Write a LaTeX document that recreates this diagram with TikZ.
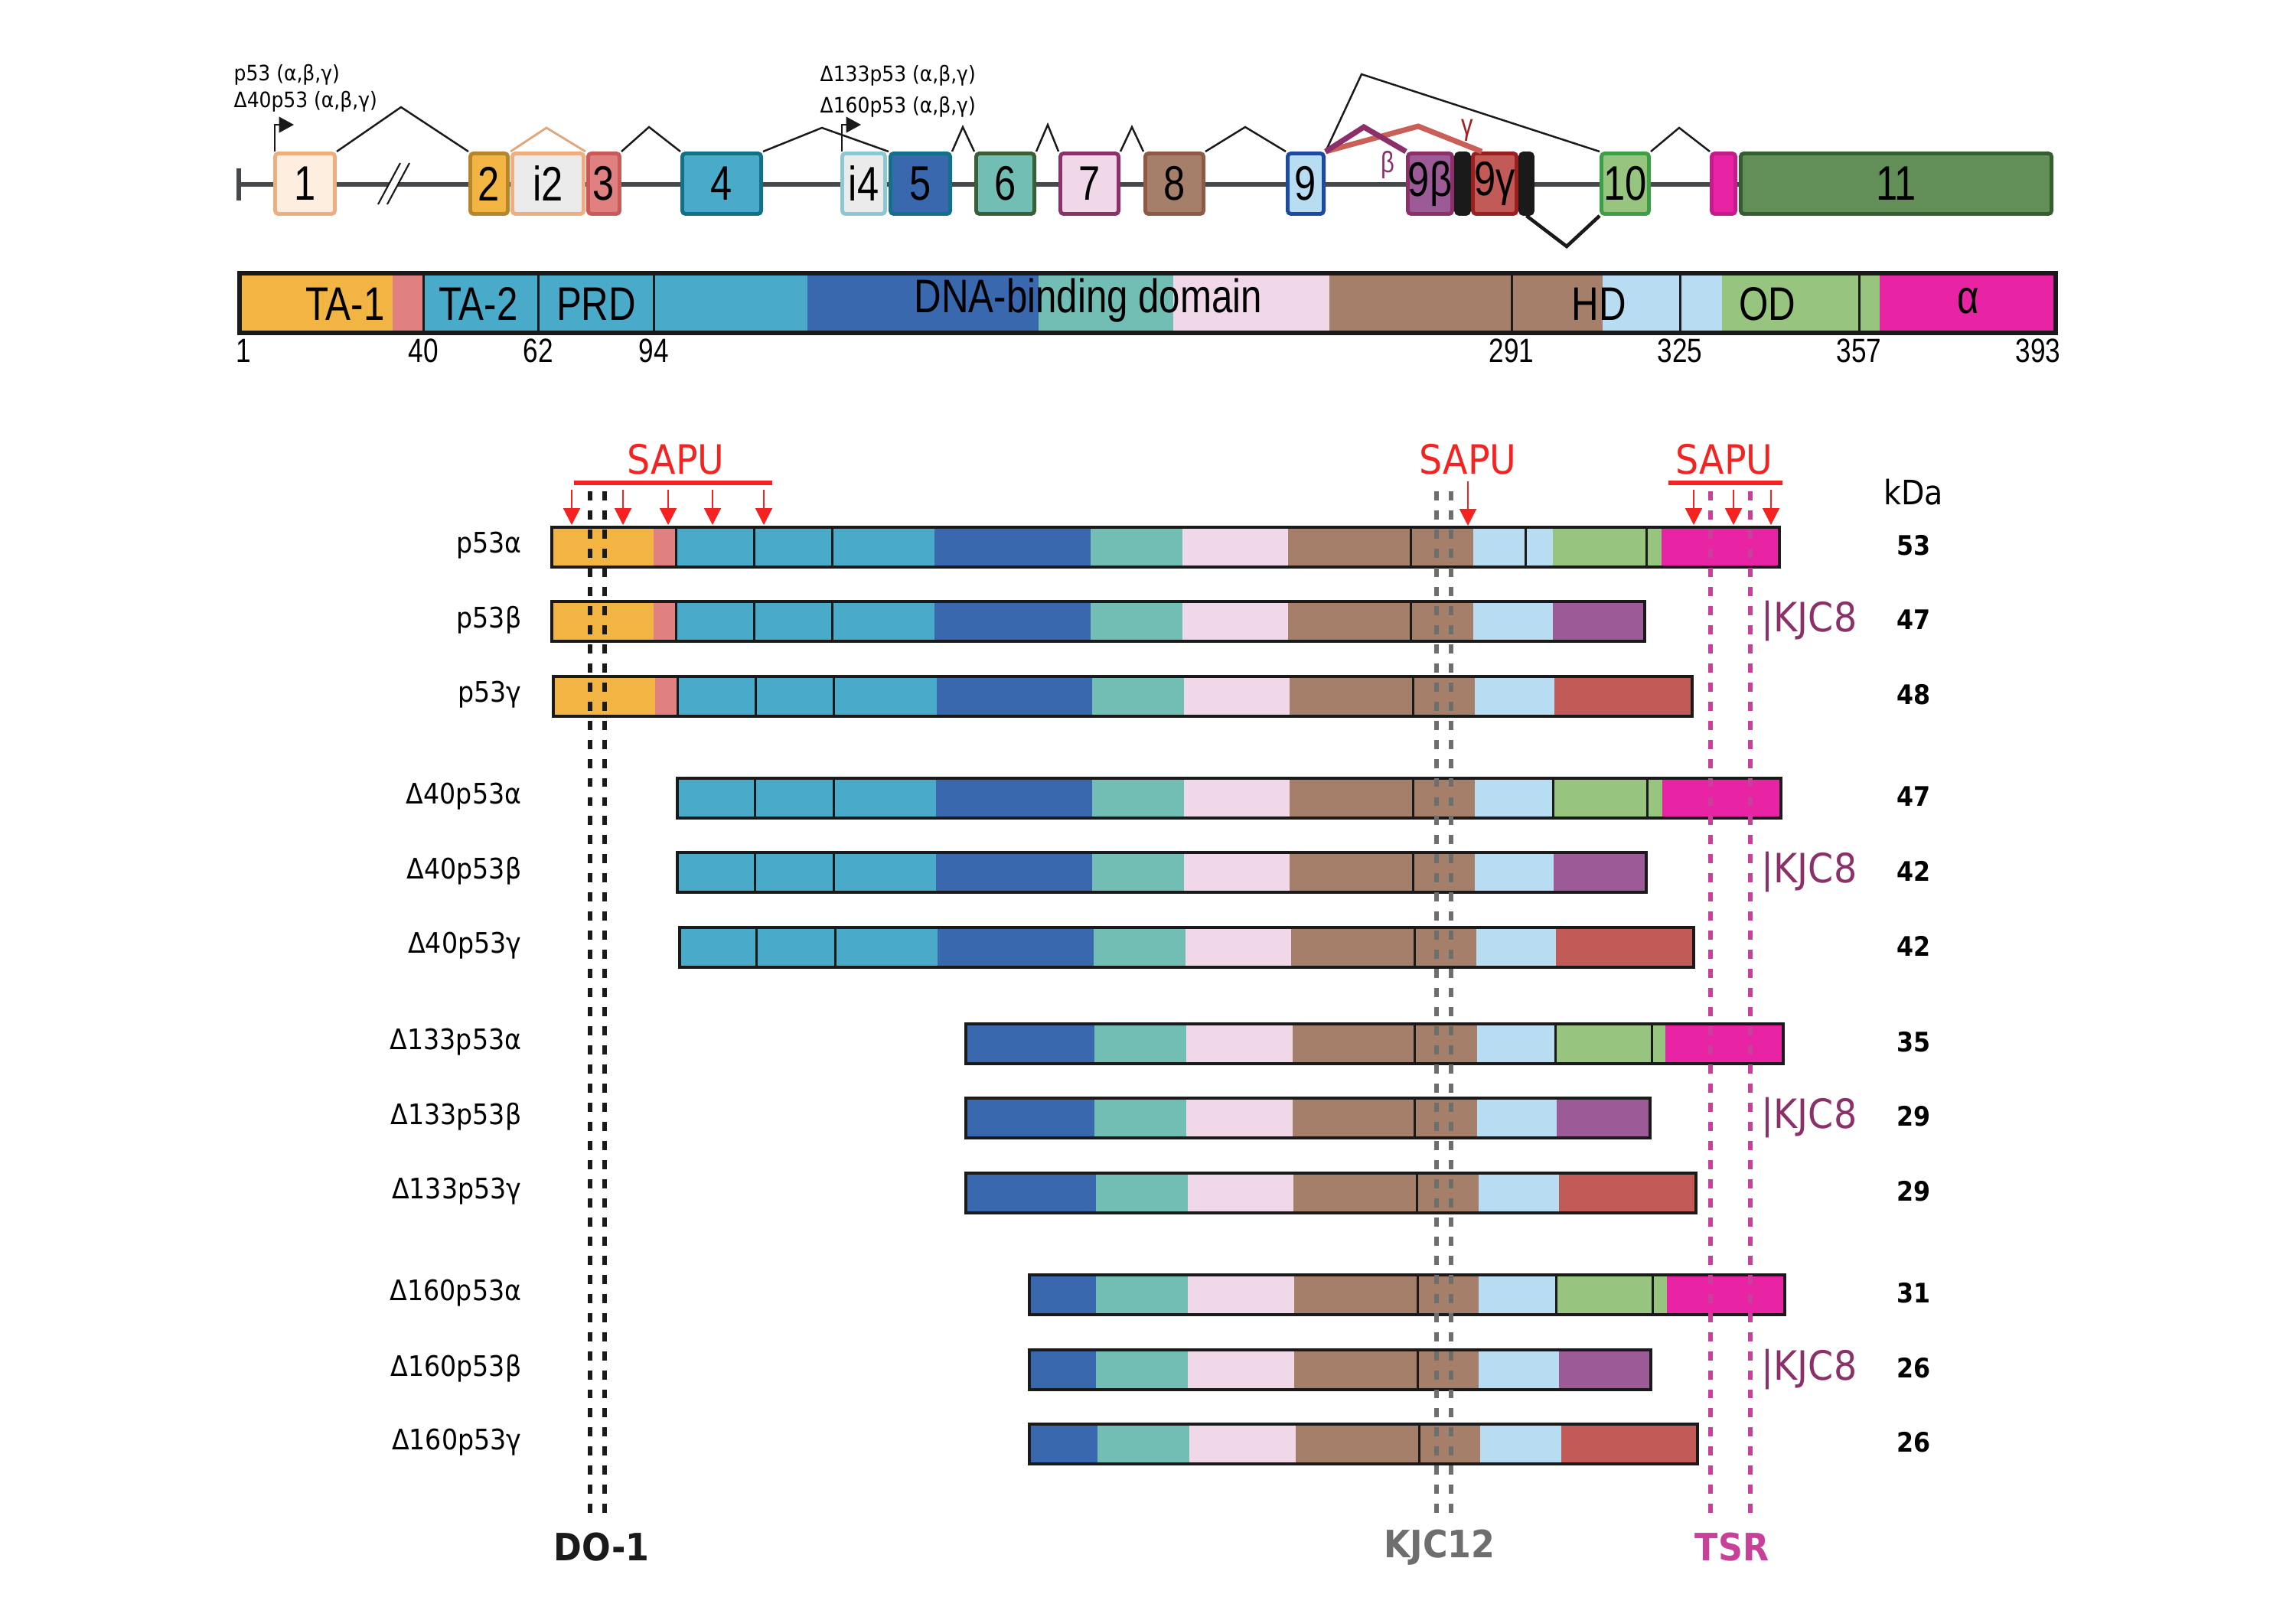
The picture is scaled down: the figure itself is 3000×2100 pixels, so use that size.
\documentclass[tikz,border=0pt]{standalone}
\usepackage{fontspec}
\setmainfont{DejaVu Sans}[FakeStretch=0.9]
\newfontfamily\helv{Liberation Sans}[FakeStretch=0.8]
\usetikzlibrary{arrows.meta,calc}
\definecolor{cOr}{HTML}{F2B544}
\definecolor{cRd}{HTML}{E08080}
\definecolor{cBl}{HTML}{4AAAC9}
\definecolor{cDb}{HTML}{3A68AE}
\definecolor{cTe}{HTML}{72BDB4}
\definecolor{cPk}{HTML}{F0D8E8}
\definecolor{cBr}{HTML}{A67F6A}
\definecolor{cLb}{HTML}{B8DCF2}
\definecolor{cGr}{HTML}{97C47E}
\definecolor{cMg}{HTML}{E824A4}
\definecolor{cPu}{HTML}{9C5B96}
\definecolor{cRe}{HTML}{C25A58}
\definecolor{cEl}{HTML}{628E58}
\definecolor{bOr}{HTML}{B8862A}
\definecolor{bRd}{HTML}{C85A5A}
\definecolor{bBl}{HTML}{127088}
\definecolor{bTe}{HTML}{3A5E35}
\definecolor{bPk}{HTML}{8B3068}
\definecolor{bBr}{HTML}{8C5A45}
\definecolor{bLb}{HTML}{1B4AA0}
\definecolor{bGr}{HTML}{3E9E45}
\definecolor{bMg}{HTML}{C41C8C}
\definecolor{bRe}{HTML}{9A2020}
\definecolor{bEl}{HTML}{355E30}
\definecolor{eOneF}{HTML}{FDEEE0}
\definecolor{eOneB}{HTML}{EFAE80}
\definecolor{iGray}{HTML}{EBEBEB}
\definecolor{iFourB}{HTML}{8CC8D4}
\definecolor{sapuC}{HTML}{F52222}
\definecolor{kjcEightC}{HTML}{8B3068}
\definecolor{kjcTwelveC}{HTML}{6E6E6E}
\definecolor{tsrC}{HTML}{C8409A}
\definecolor{gline}{HTML}{45494C}
\definecolor{ink}{HTML}{1A1A1A}
\definecolor{gamC}{HTML}{C86058}
\definecolor{gamT}{HTML}{A02020}
\newcommand\isosegs[2]{\foreach \c/\a/\b in {#2}{\fill[\c] (\a,#1-26) rectangle (\b,#1+26);}}
\newcommand\isodivs[2]{\foreach \a in {#2}{\draw[divline] (\a,#1-26) -- (\a,#1+26);}}
\newcommand\isoframe[3]{\draw[barline] (#2+2,#1-26) rectangle (#3-2,#1+26);}
\begin{document}
\begin{tikzpicture}[x=0.01cm,y=-0.01cm,
  exon/.style={draw, line width=1.4pt, rounded corners=1.2pt, minimum height=0.79cm, inner sep=0pt, font=\helv\fontsize{18}{20}\selectfont},
  splice/.style={line width=0.7pt, draw=ink},
  dom/.style={font=\helv\fontsize{17.5}{19}\selectfont, inner sep=0pt},
  domnum/.style={font=\helv\fontsize{12.5}{14}\selectfont, inner sep=0pt},
  rowlab/.style={font=\fontsize{10.5}{12}\selectfont, anchor=east, inner sep=0pt},
  kda/.style={font=\bfseries\fontsize{10}{12}\selectfont, inner sep=0pt},
  toplab/.style={font=\fontsize{7.9}{9}\selectfont, anchor=west, inner sep=0pt},
  sapu/.style={text=sapuC, font=\fontsize{15}{17}\selectfont, inner sep=0pt},
  kjceight/.style={text=kjcEightC, font=\fontsize{15}{17}\selectfont, anchor=west, inner sep=0pt},
  ablab/.style={font=\bfseries\fontsize{14}{16}\selectfont, inner sep=0pt},
  redarrow/.style={draw=sapuC, line width=0.6pt, -{Triangle[length=6.2pt,width=6.2pt]}},
  prom/.style={draw=ink, line width=0.7pt, -{Triangle[length=5.5pt,width=5.8pt]}},
  barline/.style={draw=ink, line width=1.15pt},
  divline/.style={draw=ink, line width=0.85pt},
  epdash/.style={line width=1.5pt, dash pattern=on 3.4pt off 3.7pt},
]
\useasboundingbox[fill=white] (0,0) rectangle (3000,2100);

% ---------------- gene structure ----------------
\draw[gline, line width=1.7pt] (312,241) -- (2683,241);
\draw[gline, line width=1.5pt] (312,220) -- (312,262);
\fill[white] (494,267) -- (523,213) -- (535,213) -- (506,267) -- cycle;
\draw[ink, line width=0.6pt] (494,267) -- (523,213);
\draw[ink, line width=0.6pt] (506,267) -- (535,213);

\node[exon, fill=eOneF, draw=eOneB, minimum width=0.78cm] (e1) at (398.5,240) {1};
\node[exon, fill=cOr, draw=bOr, minimum width=0.49cm] (e2) at (639,240) {2};
\node[exon, fill=iGray, draw=eOneB, minimum width=0.93cm] (ei2) at (716,240) {i2};
\node[exon, fill=cRd, draw=bRd, minimum width=0.41cm] (e3) at (789,240) {3};
\node[exon, fill=cBl, draw=bBl, minimum width=1.03cm] (e4) at (943,240) {4};
\node[exon, fill=iGray, draw=iFourB, minimum width=0.56cm] (ei4) at (1128.5,240) {i4};
\node[exon, fill=cDb, draw=bBl, minimum width=0.78cm] (e5) at (1202.5,240) {5};
\node[exon, fill=cTe, draw=bTe, minimum width=0.76cm] (e6) at (1313.5,240) {6};
\node[exon, fill=cPk, draw=bPk, minimum width=0.76cm] (e7) at (1423.5,240) {7};
\node[exon, fill=cBr, draw=bBr, minimum width=0.76cm] (e8) at (1534.5,240) {8};
\node[exon, fill=cLb, draw=bLb, minimum width=0.47cm] (e9) at (1706,240) {9};
\node[exon, fill=cPu, draw=bPk, minimum width=0.58cm] (e9b) at (1868.5,240) {9β};
\node[exon, fill=ink, draw=ink, minimum width=0.17cm] (eb1) at (1911,240) {};
\node[exon, fill=cRe, draw=bRe, minimum width=0.57cm] (e9g) at (1953,240) {9γ};
\node[exon, fill=ink, draw=ink, minimum width=0.16cm] (eb2) at (1994.5,240) {};
\node[exon, fill=cGr, draw=bGr, minimum width=0.62cm] (e10) at (2123.5,240) {10};
\node[exon, fill=cMg, draw=bMg, minimum width=0.31cm] (epk) at (2252,240) {};
\node[exon, fill=cEl, draw=bEl, minimum width=4.06cm] (e11) at (2477.5,240) {11};

\draw[splice] (e1.north east) -- (524,140) -- (e2.north west);
\draw[line width=0.8pt, draw=eOneB!95!black] (ei2.north west) -- (714,167) -- (ei2.north east);
\draw[splice] (e3.north east) -- (848,166) -- (e4.north west);
\draw[splice] (e4.north east) -- (1074,167) -- (e5.north west);
\draw[splice] (e5.north east) -- (1258,166) -- (e6.north west);
\draw[splice] (e6.north east) -- (1369,163) -- (e7.north west);
\draw[splice] (e7.north east) -- (1479,166) -- (e8.north west);
\draw[splice] (e8.north east) -- (1627,166) -- (e9.north west);
\draw[splice] (e9.north east) -- (1779,97) -- (e10.north west);
\draw[line width=2pt, draw=gamC] (e9.north east) -- (1853,165) -- ($(e9g.north west)+(14,0)$);
\draw[line width=2pt, draw=bPk] (e9.north east) -- (1782,166) -- (e9b.north west);
\draw[line width=1.3pt, draw=ink] (eb2.south) -- (2047,322) -- (e10.south west);
\draw[splice] (e10.north east) -- (2194,167) -- (epk.north west);
\node[text=bPk, font=\helv\fontsize{11}{12}\selectfont, inner sep=0pt] (lbeta) at (1813,215) {β};
\node[text=gamT, font=\helv\fontsize{11}{12}\selectfont, inner sep=0pt] (lgam) at (1917,170) {γ};

\draw[prom] ($(e1.north west)+(2,0)$) -- ++(0,-35) -- ++(25,0);
\draw[prom] ($(ei4.north west)+(2,0)$) -- ++(0,-35) -- ++(25,0);
\node[toplab] (t1) at (305,98) {p53 (α,β,γ)};
\node[toplab] (t2) at (305,133) {Δ40p53 (α,β,γ)};
\node[toplab] (t3) at (1071,99) {Δ133p53 (α,β,γ)};
\node[toplab] (t4) at (1071,140) {Δ160p53 (α,β,γ)};

% ---------------- domain bar ----------------
\foreach \c/\a/\b in {cOr/313/513, cRd/513/553, cBl/553/1055, cDb/1055/1357, cTe/1357/1533, cPk/1533/1737, cBr/1737/2094, cLb/2094/2250, cGr/2250/2456, cMg/2456/2686}
  {\fill[\c] (\a,357) rectangle (\b,435);}
\foreach \a in {553,703,854,1975,2195,2429} {\draw[divline] (\a,357) -- (\a,435);}
\draw[ink, line width=1.7pt] (313,357) rectangle (2686,435);
\node[dom] (dta1) at (451,397) {TA-1};
\node[dom] (dta2) at (625,397) {TA-2};
\node[dom] (dprd) at (779,397) {PRD};
\node[dom] (ddbd) at (1422,393) {DNA-binding domain};
\node[dom] (dhd) at (2089,397) {HD};
\node[dom] (dod) at (2309,397) {OD};
\node[dom] (dal) at (2572,393) {α};
\node[domnum] (n1) at (318,458) {1};
\node[domnum] (n40) at (553,458) {40};
\node[domnum] (n62) at (703,458) {62};
\node[domnum] (n94) at (854,458) {94};
\node[domnum] (n291) at (1975,458) {291};
\node[domnum] (n325) at (2195,458) {325};
\node[domnum] (n357) at (2429,458) {357};
\node[domnum] (n393) at (2663,458) {393};

% ---------------- isoform bars ----------------
% p53
\isosegs{715}{cOr/719/854, cRd/854/883, cBl/883/1221, cDb/1221/1425, cTe/1425/1545, cPk/1545/1683, cBr/1683/1925, cLb/1925/2029, cGr/2029/2171, cMg/2171/2327}
\isodivs{715}{883,985,1087,1843,1993,2151}
\isoframe{715}{719}{2327}
\isosegs{812}{cOr/719/854, cRd/854/883, cBl/883/1221, cDb/1221/1425, cTe/1425/1545, cPk/1545/1683, cBr/1683/1925, cLb/1925/2029, cPu/2029/2151}
\isodivs{812}{883,985,1087,1843}
\isoframe{812}{719}{2151}
\isosegs{910}{cOr/721/856, cRd/856/885, cBl/885/1224, cDb/1224/1427, cTe/1427/1547, cPk/1547/1685, cBr/1685/1927, cLb/1927/2031, cRe/2031/2213}
\isodivs{910}{885,987,1089,1846}
\isoframe{910}{721}{2213}
% Delta40
\isosegs{1043}{cBl/883/1223, cDb/1223/1427, cTe/1427/1547, cPk/1547/1685, cBr/1685/1927, cLb/1927/2029, cGr/2029/2172, cMg/2172/2329}
\isodivs{1043}{986,1089,1846,2029,2152}
\isoframe{1043}{883}{2329}
\isosegs{1140}{cBl/883/1223, cDb/1223/1427, cTe/1427/1547, cPk/1547/1685, cBr/1685/1927, cLb/1927/2030, cPu/2030/2153}
\isodivs{1140}{986,1089,1846}
\isoframe{1140}{883}{2153}
\isosegs{1238}{cBl/886/1225, cDb/1225/1429, cTe/1429/1549, cPk/1549/1687, cBr/1687/1929, cLb/1929/2033, cRe/2033/2215}
\isodivs{1238}{988,1091,1848}
\isoframe{1238}{886}{2215}
% Delta133
\isosegs{1364}{cDb/1260/1430, cTe/1430/1550, cPk/1550/1689, cBr/1689/1930, cLb/1930/2032, cGr/2032/2176, cMg/2176/2332}
\isodivs{1364}{1848,2032,2158}
\isoframe{1364}{1260}{2332}
\isosegs{1461}{cDb/1260/1430, cTe/1430/1550, cPk/1550/1689, cBr/1689/1930, cLb/1930/2034, cPu/2034/2158}
\isodivs{1461}{1848}
\isoframe{1461}{1260}{2158}
\isosegs{1559}{cDb/1260/1432, cTe/1432/1552, cPk/1552/1690, cBr/1690/1932, cLb/1932/2037, cRe/2037/2218}
\isodivs{1559}{1851}
\isoframe{1559}{1260}{2218}
% Delta160
\isosegs{1692}{cDb/1343/1432, cTe/1432/1552, cPk/1552/1691, cBr/1691/1932, cLb/1932/2033, cGr/2033/2178, cMg/2178/2334}
\isodivs{1692}{1852,2033,2159}
\isoframe{1692}{1343}{2334}
\isosegs{1790}{cDb/1343/1432, cTe/1432/1552, cPk/1552/1691, cBr/1691/1932, cLb/1932/2037, cPu/2037/2159}
\isodivs{1790}{1852}
\isoframe{1790}{1343}{2159}
\isosegs{1887}{cDb/1343/1434, cTe/1434/1554, cPk/1554/1693, cBr/1693/1934, cLb/1934/2040, cRe/2040/2220}
\isodivs{1887}{1854}
\isoframe{1887}{1343}{2220}

% row labels
\node[rowlab] (r1) at (682,713) {p53α};
\node[rowlab] (r2) at (682,810) {p53β};
\node[rowlab] (r3) at (682,908) {p53γ};
\node[rowlab] (r4) at (682,1041) {Δ40p53α};
\node[rowlab] (r5) at (682,1138) {Δ40p53β};
\node[rowlab] (r6) at (682,1236) {Δ40p53γ};
\node[rowlab] (r7) at (682,1362) {Δ133p53α};
\node[rowlab] (r8) at (682,1459) {Δ133p53β};
\node[rowlab] (r9) at (682,1557) {Δ133p53γ};
\node[rowlab] (r10) at (682,1690) {Δ160p53α};
\node[rowlab] (r11) at (682,1788) {Δ160p53β};
\node[rowlab] (r12) at (682,1885) {Δ160p53γ};

% kDa
\node[font=\fontsize{12.5}{14}\selectfont, inner sep=0pt] (kda) at (2500,643) {kDa};
\foreach \y/\v [count=\i] in {713/53, 810/47, 908/48, 1041/47, 1138/42, 1236/42, 1362/35, 1459/29, 1557/29, 1690/31, 1788/26, 1885/26}
  {\node[kda] (k\i) at (2500,\y) {\v};}

% KJC8
\foreach \y [count=\i] in {812,1140,1461,1790}
  {\node[kjceight] (kj\i) at (2301,\y) {|KJC8};}

% epitope dashed lines
\coordinate (doA) at (771,642); \coordinate (doB) at (790,642);
\coordinate (kjA) at (1877,642); \coordinate (kjB) at (1896,642);
\coordinate (tsA) at (2235,642); \coordinate (tsB) at (2287,642);
\draw[epdash, draw=ink] (doA) -- (771,1977);
\draw[epdash, draw=ink] (doB) -- (790,1977);
\draw[epdash, draw=kjcTwelveC] (kjA) -- (1877,1977);
\draw[epdash, draw=kjcTwelveC] (kjB) -- (1896,1977);
\draw[epdash, draw=tsrC] (tsA) -- (2235,1977);
\draw[epdash, draw=tsrC] (tsB) -- (2287,1977);
\node[ablab, text=ink] (do1) at (786,2022) {DO-1};
\node[ablab, text=kjcTwelveC] (kjc12) at (1881,2022) {KJC12};
\node[ablab, text=tsrC] (tsr) at (2263,2022) {TSR};

% SAPU
\node[sapu] (s1) at (883,600) {SAPU};
\node[sapu] (s2) at (1918,600) {SAPU};
\node[sapu] (s3) at (2253,600) {SAPU};
\draw[sapuC, line width=1.7pt] (750,631) -- (1009,631);
\draw[sapuC, line width=1.7pt] (2180,631) -- (2329,631);
\foreach \x in {747,814,873,931,998,2213,2265,2314}
  {\draw[redarrow] (\x,640) -- (\x,686);}
\draw[redarrow] (1918,629) -- (1918,687);
\end{tikzpicture}
\end{document}
